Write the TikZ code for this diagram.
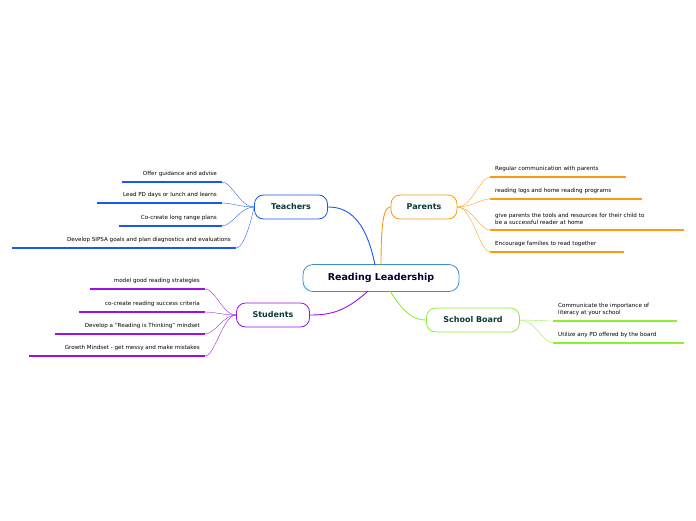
\documentclass[tikz,border=0pt]{standalone}
\usepackage{fontspec}
\setmainfont{DejaVu Sans}
\definecolor{tblue}{HTML}{1A57F0}
\definecolor{porange}{HTML}{FF9A10}
\definecolor{spurple}{HTML}{9A10E8}
\definecolor{bgreen}{HTML}{8CF030}
\definecolor{centreblue}{HTML}{3A8FC8}
\definecolor{topictext}{HTML}{0A3A3A}
\tikzset{
  topic/.style={draw,rounded corners=9pt,line width=0.8pt,fill=white,minimum height=24pt,inner xsep=9pt,font=\fontsize{8}{9}\selectfont\bfseries,text=topictext},
  leaf/.style={font=\fontsize{5.6}{7}\selectfont,inner sep=0pt},
  branch/.style={line width=0.9pt},
  twig/.style={line width=0.35pt},
  uline/.style={line width=1.2pt}
}
\begin{document}
\begin{tikzpicture}[x=1pt,y=-1pt]
\useasboundingbox (0,0) rectangle (696,520);
% centre
\node[draw=centreblue,rounded corners=10pt,line width=0.8pt,minimum width=156pt,minimum height=27pt,font=\fontsize{9.5}{11}\selectfont\bfseries,text=black!80!blue] (root) at (381,278) {Reading Leadership};
% topics
\node[topic,draw=tblue,minimum width=73pt] (teach) at (291,207) {Teachers};
\node[topic,draw=porange,minimum width=66pt] (par) at (424,207) {Parents};
\node[topic,draw=spurple,minimum width=73pt] (stud) at (273,315) {Students};
\node[topic,draw=bgreen,minimum width=93pt] (board) at (473,320) {School Board};
\draw[branch,tblue] (375,265) .. controls (365,215) and (345,207) .. (teach.east);
\draw[branch,porange] (381,265) .. controls (381,215) and (385,207) .. (par.west);
\draw[branch,spurple] (368,291) .. controls (345,312) and (330,315) .. (stud.east);
\draw[branch,bgreen] (390,291) .. controls (405,315) and (415,320) .. (board.west);
% Teachers
\foreach \n/\xa/\xb/\y/\t in {t1/122/222/182/Offer guidance and advise,t2/97/222/203/Lead PD days or lunch and learns,t3/119/222/226/Co-create long range plans,t4/12/236/248/Develop SIPSA goals and plan diagnostics and evaluations}{
  \coordinate (\n a) at (\xa,\y);
  \coordinate (\n b) at (\xb,\y);
  \draw[uline,tblue] (\n a) -- (\n b);
  \node[leaf,anchor=south east] (\n) at (\xb-5,\y-5) {\t};
  \draw[twig,tblue] (teach.west) .. controls (\xb+18,207) and (\xb+10,\y) .. (\n b);
}
% Parents
\foreach \n/\xa/\xb/\y/\t in {p1/490/626/177/Regular communication with parents,p2/490/642/199/reading logs and home reading programs,p4/490/624/252/Encourage families to read together}{
  \coordinate (\n a) at (\xa,\y);
  \coordinate (\n b) at (\xb,\y);
  \draw[uline,porange] (\n a) -- (\n b);
  \node[leaf,anchor=south west] (\n) at (\xa+5,\y-5) {\t};
  \draw[twig,porange] (par.east) .. controls (\xa-18,207) and (\xa-10,\y) .. (\n a);
}
\coordinate (p3a) at (490,230);
\coordinate (p3b) at (684,230);
\draw[uline,porange] (p3a) -- (p3b);
\node[leaf,anchor=south west,align=left] (p3) at (495,225) {give parents the tools and resources for their child to\\be a successful reader at home};
\draw[twig,porange] (par.east) .. controls (472,207) and (480,230) .. (p3a);
% Students
\foreach \n/\xa/\y/\t in {s1/90/289/model good reading strategies,s2/79/312/co-create reading success criteria,s3/55/334/Develop a "Reading is Thinking" mindset,s4/29/356/Growth Mindset - get messy and make mistakes}{
  \coordinate (\n a) at (\xa,\y);
  \coordinate (\n b) at (205,\y);
  \draw[uline,spurple] (\n a) -- (\n b);
  \node[leaf,anchor=south east] (\n) at (200,\y-5) {\t};
  \draw[twig,spurple] (stud.west) .. controls (223,315) and (215,\y) .. (\n b);
}
% School Board
\coordinate (b1a) at (553,321);
\coordinate (b1b) at (677,321);
\draw[uline,bgreen] (b1a) -- (b1b);
\node[leaf,anchor=south west,align=left] (b1) at (558,316) {Communicate the importance of\\literacy at your school};
\draw[twig,bgreen] (board.east) .. controls (535,320) and (543,321) .. (b1a);
\coordinate (b2a) at (553,343);
\coordinate (b2b) at (684,343);
\draw[uline,bgreen] (b2a) -- (b2b);
\node[leaf,anchor=south west] (b2) at (558,338) {Utilize any PD offered by the board};
\draw[twig,bgreen] (board.east) .. controls (535,320) and (543,343) .. (b2a);
\end{tikzpicture}
\end{document}
